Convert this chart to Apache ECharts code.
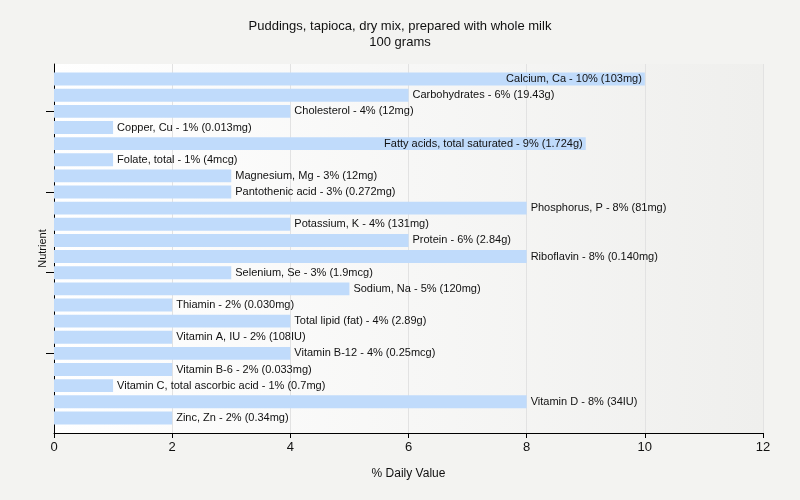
<!DOCTYPE html>
<html><head><meta charset="utf-8">
<script src="https://cdn.jsdelivr.net/npm/echarts@6/dist/echarts.min.js"></script>
<style>html,body{margin:0;padding:0;background:#f3f3f1}#c{width:800px;height:500px}</style>
</head><body><div id="c"></div>
<script>
const titleText = "Puddings, tapioca, dry mix, prepared with whole milk";
const subtitleText = "100 grams";
const categories = ["Calcium, Ca","Carbohydrates","Cholesterol","Copper, Cu","Fatty acids, total saturated","Folate, total","Magnesium, Mg","Pantothenic acid","Phosphorus, P","Potassium, K","Protein","Riboflavin","Selenium, Se","Sodium, Na","Thiamin","Total lipid (fat)","Vitamin A, IU","Vitamin B-12","Vitamin B-6","Vitamin C, total ascorbic acid","Vitamin D","Zinc, Zn"];
const values = [10,6,4,1,9,1,3,3,8,4,6,8,3,5,2,4,2,4,2,1,8,2];
const amounts = ["103mg","19.43g","12mg","0.013mg","1.724g","4mcg","12mg","0.272mg","81mg","131mg","2.84g","0.140mg","1.9mcg","120mg","0.030mg","2.89g","108IU","0.25mcg","0.033mg","0.7mg","34IU","0.34mg"];
const xTicks = [0,2,4,6,8,10,12];

const font = "'Liberation Sans', Arial, sans-serif";
const chart = echarts.init(document.getElementById('c'));
const data = values.map((v,i)=>({
  value: v,
  label: { position: v >= 9 ? 'insideRight' : 'right', distance: v >= 9 ? 3 : 4 }
}));
chart.setOption({
  backgroundColor: '#f3f3f1',
  animation: false,
  title: {
    text: titleText, subtext: subtitleText, left: 'center', top: 15, itemGap: 3,
    textStyle: { fontFamily: font, fontSize: 13, fontWeight: 'normal', color: '#111' },
    subtextStyle: { fontFamily: font, fontSize: 13, color: '#111' }
  },
  grid: [
    { left: 54, right: 37, top: 64, bottom: 67, show: true, borderWidth: 0,
      backgroundColor: { type: 'linear', x: 0, y: 0, x2: 1, y2: 0,
        colorStops: [{ offset: 0, color: '#ffffff' }, { offset: 1, color: '#efefed' }] } },
    { left: 54, right: 37, top: 71, bottom: 74 }
  ],
  xAxis: [
    { type: 'value', gridIndex: 0, min: xTicks[0], max: xTicks[xTicks.length-1], interval: 2,
      axisLine: { show: true, lineStyle: { color: '#000', width: 1 } },
      axisTick: { show: true, length: 5, lineStyle: { color: '#000' } },
      axisLabel: { fontFamily: font, fontSize: 13, color: '#111', margin: 8 },
      splitLine: { show: true, lineStyle: { color: '#e2e2e2' } },
      name: '% Daily Value', nameLocation: 'middle', nameGap: 35,
      nameTextStyle: { fontFamily: font, fontSize: 12, color: '#111' } },
    { type: 'value', gridIndex: 1, min: 0, max: 12, show: false }
  ],
  yAxis: [
    { type: 'value', gridIndex: 0, min: 0, max: 1,
      axisLine: { show: true, lineStyle: { color: '#000', width: 1 } },
      axisTick: { show: false }, axisLabel: { show: false }, splitLine: { show: false },
      name: 'Nutrient', nameLocation: 'middle', nameGap: 6, nameRotate: 90,
      nameTextStyle: { fontFamily: font, fontSize: 11, color: '#111' } },
    { type: 'category', gridIndex: 1, data: categories, inverse: true,
      axisLine: { show: false },
      axisTick: { show: true, alignWithLabel: true, length: 8, interval: (i) => i % 5 === 2, lineStyle: { color: '#000' } },
      axisLabel: { show: false } }
  ],
  series: [{
    type: 'bar', xAxisIndex: 1, yAxisIndex: 1, data: data, barCategoryGap: '20%',
    itemStyle: { color: '#c0dbfb' },
    label: { show: true, fontFamily: font, fontSize: 11, color: '#111',
      formatter: (p) => categories[p.dataIndex] + ' - ' + values[p.dataIndex] + '% (' + amounts[p.dataIndex] + ')' }
  }]
});
</script></body></html>
